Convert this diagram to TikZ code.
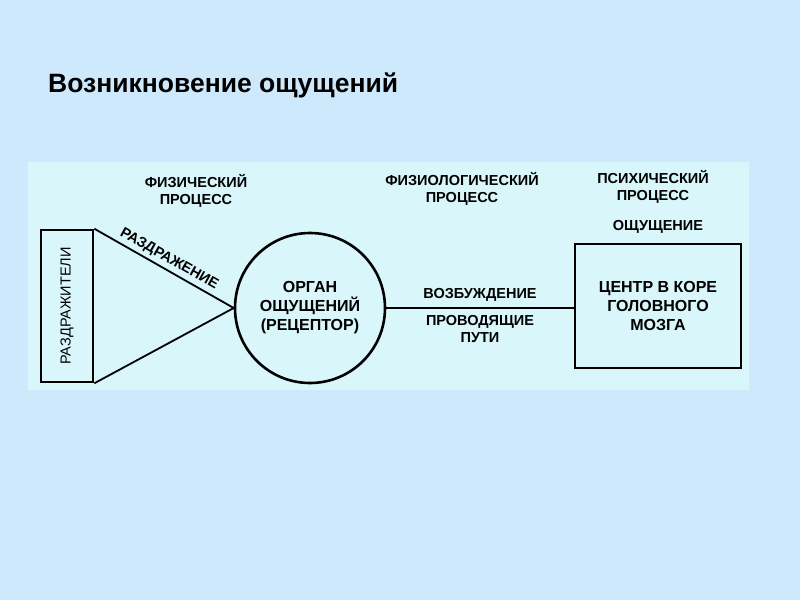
\documentclass[tikz,border=0pt]{standalone}
\usepackage{fontspec}
\setmainfont{Liberation Sans}
\usepackage{xcolor}
\usetikzlibrary{positioning, calc}

\definecolor{slidebg}{RGB}{205,233,251}
\definecolor{panelbg}{RGB}{217,246,250}

\begin{document}
\begin{tikzpicture}[
        x=1pt, y=-1pt,
        heading/.style={font=\fontsize{14.5}{17}\selectfont\bfseries, align=center, inner sep=0pt},
        boxtext/.style={font=\fontsize{16}{19}\selectfont\bfseries, align=center, inner sep=0pt},
        stimbox/.style={draw, line width=2.6pt, minimum width=52pt, minimum height=152pt, inner sep=0pt},
        organ/.style={circle, draw, line width=2.6pt, minimum size=150pt, inner sep=0pt},
        cortexbox/.style={draw, line width=2.6pt, minimum width=166pt, minimum height=124pt, inner sep=0pt},
        ray/.style={line width=1.8pt},
        nerve/.style={line width=1.4pt},
    ]

    % === BACKGROUND ===
    \fill[slidebg] (0,0) rectangle (800,600);
    \useasboundingbox (0,0) rectangle (800,600);
    \fill[panelbg] (28,162) rectangle (749,390);

    % Title
    \node[anchor=west, inner sep=0pt, font=\fontsize{26.5}{30}\selectfont\bfseries] (title) at (48,85) {Возникновение ощущений};

    % === MAIN BLOCKS ===
    \node[stimbox] (stim) at (67,306) {};
    \node[rotate=90, inner sep=0pt, font=\fontsize{14.5}{17}\selectfont] (stimtext) at (stim.center) {РАЗДРАЖИТЕЛИ};

    \node[organ] (rec) at (310,308) {};
    \node[boxtext] (rectext) at (rec.center) {ОРГАН\\ОЩУЩЕНИЙ\\(РЕЦЕПТОР)};

    \node[cortexbox] (cortex) at (658,306) {};
    \node[boxtext] (cortextext) at (cortex.center) {ЦЕНТР В КОРЕ\\ГОЛОВНОГО\\МОЗГА};

    % Stimulation rays
    \draw[ray] (stim.north east) -- (rec.west)
        node[pos=0.5, sloped, above, inner sep=3pt, font=\fontsize{14.5}{17}\selectfont\bfseries] (irrit) {РАЗДРАЖЕНИЕ};
    \draw[ray] (stim.south east) -- (rec.west);

    % Nerve path
    \draw[nerve] (rec.east) -- (rec.east -| cortex.west);
    \coordinate (mid) at ($(rec.east)!0.5!(rec.east -| cortex.west)$);
    \node[heading, above=6pt of mid] (excit) {ВОЗБУЖДЕНИЕ};
    \node[heading, below=7pt of mid] (paths) {ПРОВОДЯЩИЕ\\ПУТИ};

    % Process labels
    \node[heading] (phys) at (196,191) {ФИЗИЧЕСКИЙ\\ПРОЦЕСС};
    \node[heading] (physio) at (462,189) {ФИЗИОЛОГИЧЕСКИЙ\\ПРОЦЕСС};
    \node[heading] (psych) at (653,187) {ПСИХИЧЕСКИЙ\\ПРОЦЕСС};
    \node[heading, above=9pt of cortex] (sense) {ОЩУЩЕНИЕ};

\end{tikzpicture}
\end{document}
